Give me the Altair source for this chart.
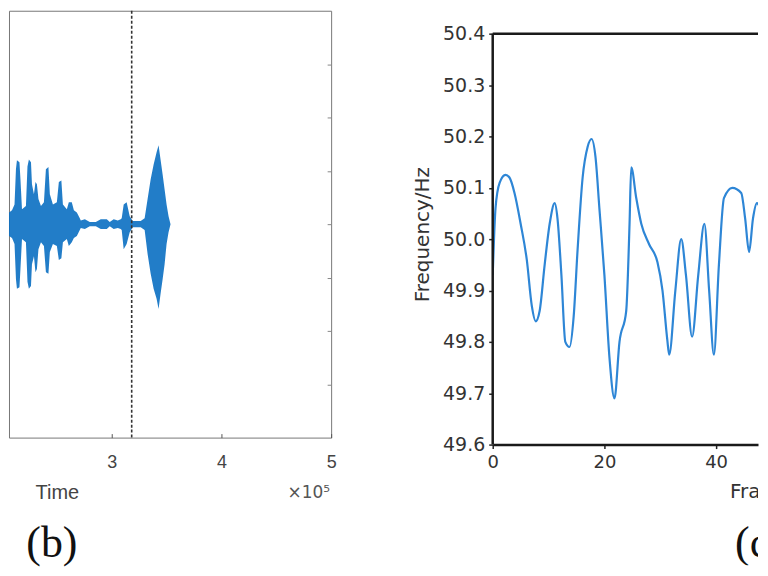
import altair as alt
import pandas as pd

# ---------------- panel (b): burst envelope of the time signal (time x 1e5) -------------
sig_time = [1.991, 2.027, 2.041, 2.064, 2.091, 2.114, 2.127, 2.136, 2.159, 2.168,
            2.182, 2.218, 2.232, 2.245, 2.264, 2.273, 2.291, 2.305, 2.318, 2.332,
            2.355, 2.382, 2.400, 2.423, 2.436, 2.464, 2.500, 2.518, 2.541, 2.555,
            2.591, 2.609, 2.636, 2.655, 2.682, 2.709, 2.718,
            2.755, 2.800, 2.855, 2.900, 2.955, 2.982, 3.018, 3.055, 3.082, 3.091,
            3.109, 3.136, 3.164, 3.191, 3.264, 3.300, 3.327, 3.355, 3.382, 3.409,
            3.427, 3.445, 3.464, 3.482, 3.500, 3.518, 3.536]
sig_upper = [0.075, 0.075, 0.026, 0.022, 0.026, 0.037, 0.103, 0.120, 0.116, 0.084,
             0.028, 0.034, 0.108, 0.121, 0.116, 0.075, 0.056, 0.079, 0.075, 0.047,
             0.034, 0.041, 0.103, 0.107, 0.056, 0.037, 0.041, 0.079, 0.082, 0.037,
             0.028, 0.041, 0.041, 0.026, 0.022, 0.011, 0.007,
             0.009, 0.004, 0.004, 0.009, 0.009, 0.004, 0.009, 0.007, 0.009, 0.011,
             0.037, 0.041, 0.015, 0.006, 0.006, 0.011, 0.047, 0.084, 0.112, 0.135,
             0.148, 0.121, 0.093, 0.065, 0.037, 0.015, 0.000]
sig_lower = [-0.077, -0.077, -0.026, -0.022, -0.026, -0.037, -0.103, -0.121, -0.118, -0.084,
             -0.028, -0.034, -0.108, -0.121, -0.116, -0.075, -0.060, -0.090, -0.084, -0.047,
             -0.034, -0.041, -0.090, -0.093, -0.052, -0.037, -0.041, -0.067, -0.064, -0.034,
             -0.028, -0.041, -0.034, -0.026, -0.022, -0.011, -0.007,
             -0.009, -0.004, -0.004, -0.009, -0.009, -0.004, -0.009, -0.007, -0.009, -0.011,
             -0.047, -0.037, -0.015, -0.006, -0.006, -0.011, -0.056, -0.093, -0.121, -0.140,
             -0.159, -0.131, -0.103, -0.075, -0.037, -0.015, 0.000]
marker_time = [3.182]
time_ticks = [3, 4, 5]
amp_ticks = [-0.3, -0.2, -0.1, 0.0, 0.1, 0.2, 0.3]
exponent_text = ["×10⁵"]
label_b = ["(b)"]

# ---------------- panel (c): frequency per frame ----------------
frame = [0.0, 0.5, 1.25, 2.3, 3.0, 3.9, 5.0, 6.1, 7.0, 7.7,
         8.4, 9.3, 10.2, 11.1, 11.6, 12.3, 13.0, 13.75, 14.5, 15.2,
         16.1, 17.0, 17.7, 18.4, 19.1, 20.0, 20.9, 21.8, 22.7, 23.9,
         24.5, 24.8, 25.7, 26.6, 28.0, 29.5, 30.4, 31.25, 31.6, 32.7,
         33.75, 34.6, 35.7, 36.8, 37.9, 38.75, 39.6, 40.5, 41.4, 42.9,
         44.5, 45.2, 45.9, 46.6, 47.3, 48.0, 48.9]
freq_hz = [49.93, 50.06, 50.11, 50.125, 50.12, 50.09, 50.03, 49.96, 49.87, 49.84,
           49.86, 49.95, 50.03, 50.07, 50.04, 49.93, 49.80, 49.79, 49.85, 49.98,
           50.12, 50.18, 50.195, 50.16, 50.06, 49.93, 49.77, 49.69, 49.80, 49.86,
           50.03, 50.14, 50.08, 50.03, 49.99, 49.955, 49.90, 49.805, 49.775, 49.90,
           50.00, 49.93, 49.81, 49.93, 50.03, 49.90, 49.775, 49.95, 50.08, 50.10,
           50.09, 50.04, 49.975, 50.04, 50.07, 50.06, 50.045]
frame_ticks = [0, 20, 40]
hz_ticks = [49.6, 49.7, 49.8, 49.9, 50.0, 50.1, 50.2, 50.3, 50.4]
frame_title = ["Frame"]
label_c = ["(c)"]

# ---------------- left panel ----------------
sig_df = pd.DataFrame({"t": sig_time, "hi": sig_upper, "lo": sig_lower})
xs_b = alt.Scale(domain=[2.0636, 5], nice=False, zero=False)
ys_b = alt.Scale(domain=[-0.4, 0.4], nice=False, zero=False)

area = alt.Chart(sig_df).mark_area(color="#0a6fc2", opacity=0.9, clip=True).encode(
    x=alt.X("t:Q", scale=xs_b,
            axis=alt.Axis(values=time_ticks, format="d", orient="bottom", offset=-4,
                          tickSize=4, domain=False, tickColor="#555", grid=False,
                          labelFlush=False, labelFont="Liberation Sans", labelFontSize=18,
                          labelColor="#444", labelPadding=16, title="Time",
                          titleFont="Liberation Sans", titleFontSize=20,
                          titleFontWeight="normal", titleColor="#444",
                          titleX=48, titleY=65, titleAlign="center",
                          titleBaseline="alphabetic")),
    y=alt.Y("hi:Q", scale=ys_b,
            axis=alt.Axis(orient="right", values=amp_ticks, labels=False, domain=False,
                          offset=-4, tickSize=4, tickColor="#888", grid=False, title=None)),
    y2="lo:Q",
)

marker = alt.Chart(pd.DataFrame({"t": marker_time})).mark_rule(
    color="#333", strokeDash=[3, 2], strokeWidth=1.6).encode(x="t:Q")

expo = alt.Chart(pd.DataFrame({"s": exponent_text})).mark_text(
    align="right", baseline="alphabetic", font="DejaVu Sans", fontSize=17,
    color="#555").encode(x=alt.value(322), y=alt.value(489), text="s:N")

tag_b = alt.Chart(pd.DataFrame({"s": label_b})).mark_text(
    align="center", baseline="alphabetic", font="Liberation Serif", fontSize=44,
    color="#111").encode(x=alt.value(43), y=alt.value(548), text="s:N")

left = alt.layer(area, marker, expo, tag_b).properties(
    width=323, height=428,
    view=alt.ViewBackground(stroke="#777", strokeWidth=1),
)

# ---------------- right panel ----------------
freq_df = pd.DataFrame({"frame": frame, "hz": freq_hz})
frame_max = 47.5
xs_c = alt.Scale(domain=[0, frame_max], nice=False, zero=False)
ys_c = alt.Scale(domain=[49.3651, 50.4447], nice=False, zero=False)

line = alt.Chart(freq_df).mark_line(color="#2e86d6", strokeWidth=2.2,
                                    interpolate="monotone", clip=True).encode(
    x=alt.X("frame:Q", scale=xs_c,
            axis=alt.Axis(values=frame_ticks, offset=-121, tickSize=4, tickWidth=1.5,
                          tickColor="#222", domainColor="#1a1a1a", domainWidth=2.5,
                          grid=False, labelFlush=False, labelFont="DejaVu Sans",
                          labelFontSize=18, labelColor="#333", labelPadding=5,
                          title=None)),
    y=alt.Y("hz:Q", scale=ys_c,
            axis=alt.Axis(values=hz_ticks, format=".1f", domain=False, tickSize=4,
                          tickWidth=1.5, tickColor="#222", grid=False,
                          labelFont="DejaVu Sans", labelFontSize=19, labelColor="#333",
                          labelPadding=4, title="Frequency/Hz", titleFont="DejaVu Sans",
                          titleFontSize=20, titleFontWeight="normal", titleColor="#333",
                          titlePadding=10, titleY=224)),
)

spine_df = pd.DataFrame({"k": [0]})
left_spine = alt.Chart(spine_df).mark_rule(color="#1a1a1a", strokeWidth=2.5).encode(
    x=alt.datum(0), y=alt.datum(49.6), y2=alt.datum(50.4))
top_spine = alt.Chart(spine_df).mark_rule(color="#1a1a1a", strokeWidth=2.5).encode(
    y=alt.datum(50.4), x=alt.datum(0), x2=alt.datum(frame_max))

x_title = alt.Chart(pd.DataFrame({"s": frame_title})).mark_text(
    align="left", baseline="alphabetic", font="DejaVu Sans", fontSize=20,
    color="#333", clip=True).encode(x=alt.value(238), y=alt.value(489), text="s:N")

tag_c = alt.Chart(pd.DataFrame({"s": label_c})).mark_text(
    align="left", baseline="alphabetic", font="Liberation Serif", fontSize=44,
    color="#111", clip=True).encode(x=alt.value(243), y=alt.value(548), text="s:N")

right = alt.layer(line, left_spine, top_spine, x_title, tag_c).properties(
    width=266, height=556,
    view=alt.ViewBackground(strokeWidth=0),
)

chart = alt.hconcat(left, right, spacing=162, bounds="flush").properties(
    padding=0, background="white"
).configure(font="Liberation Sans")

chart.save("out.html", embed_options={"renderer": "svg", "actions": False})
